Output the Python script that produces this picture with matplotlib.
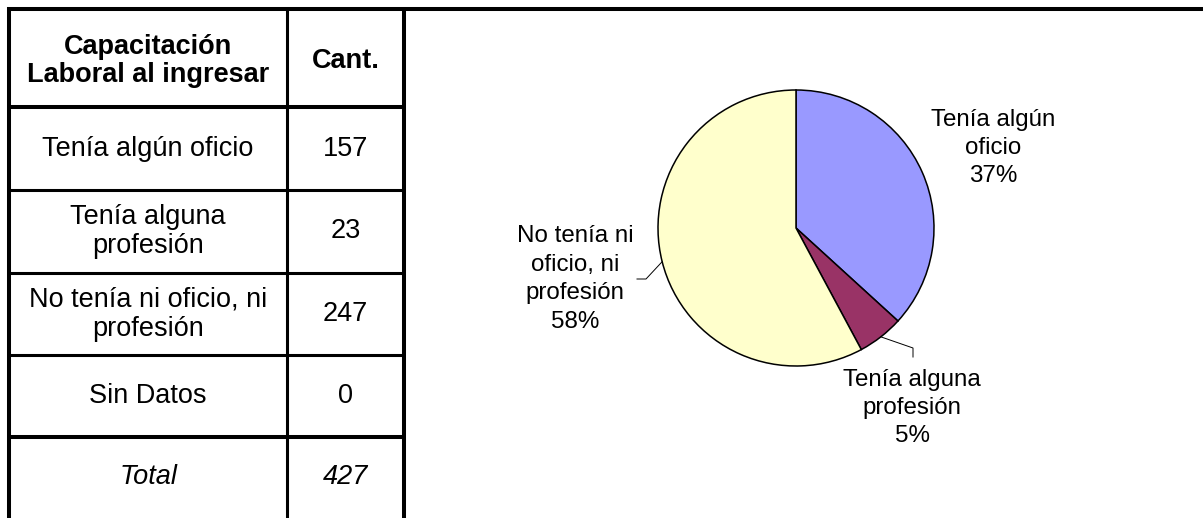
import numpy as np
import matplotlib
matplotlib.use("Agg")
from matplotlib import pyplot as plt

# datos
categorias = ['Tenía algún oficio', 'Tenía alguna\nprofesión',
              'No tenía ni oficio, ni\nprofesión', 'Sin Datos']
cantidades = [157, 23, 247, 0]
etiquetas_torta = ['Tenía algún\noficio', 'Tenía alguna\nprofesión',
                   'No tenía ni\noficio, ni\nprofesión', 'Sin Datos']
colores = ['#9999FF', '#993366', '#FFFFCC', '#CCFFFF']
total = sum(cantidades)

W, H = 1203, 518
plt.rcParams['font.family'] = ['Liberation Sans', 'DejaVu Sans']
fig = plt.figure(figsize=(W / 100, H / 100), dpi=100)
ax = fig.add_axes([0, 0, 1, 1])


def Y(y):
    return H - y


# --- tabla ---
x_izq, x_div, x_der = 9, 287, 404
filas = [9, 107, 190, 273, 355, 437, H]
c1 = (x_izq + x_div) / 2
c2 = (x_div + x_der) / 2

ax.plot([7, W], [Y(9), Y(9)], color='black', lw=2.9, solid_capstyle='butt')
ax.plot([x_izq, x_izq], [Y(7), 0], color='black', lw=2.9, solid_capstyle='butt')
ax.plot([x_der, x_der], [Y(7), 0], color='black', lw=2.9, solid_capstyle='butt')
ax.plot([x_div, x_div], [Y(9), 0], color='black', lw=2.2, solid_capstyle='butt')
for i, yy in enumerate(filas[1:-1]):
    grueso = i in (0, 4)
    ax.plot([x_izq, x_der], [Y(yy), Y(yy)], color='black',
            lw=2.9 if grueso else 2.2, solid_capstyle='butt')

fs_tabla = 19.5
ym = (filas[0] + filas[1]) / 2 + 3
ax.text(c1, Y(ym), 'Capacitación\nLaboral al ingresar', ha='center', va='center',
        fontsize=fs_tabla, fontweight='bold', linespacing=1.15)
ax.text(c2, Y(ym), 'Cant.', ha='center', va='center',
        fontsize=fs_tabla, fontweight='bold')
for i, (cat, n) in enumerate(zip(categorias, cantidades)):
    ym = (filas[i + 1] + filas[i + 2]) / 2
    ax.text(c1, Y(ym), cat, ha='center', va='center', fontsize=fs_tabla, linespacing=1.15)
    ax.text(c2, Y(ym), str(n), ha='center', va='center', fontsize=fs_tabla)
ym = (filas[5] + filas[6]) / 2
ax.text(c1, Y(ym), 'Total', ha='center', va='center', fontsize=fs_tabla, style='italic')
ax.text(c2, Y(ym), str(total), ha='center', va='center', fontsize=fs_tabla, style='italic')

# --- torta ---
vals = [v for v in cantidades if v > 0]
cols = [c for c, v in zip(colores, cantidades) if v > 0]
etqs = [e for e, v in zip(etiquetas_torta, cantidades) if v > 0]
cx, cy, r = 796, 228, 138
wedges, _ = ax.pie(vals, colors=cols, startangle=90, counterclock=False,
                   center=(cx, Y(cy)), radius=r, frame=True,
                   wedgeprops=dict(edgecolor='black', linewidth=1.1))

pos_etq = [(993, 148), (912, 408), (575, 279)]
guias = [None, [(913, 348), (913, 357)], [(646, 279), (637, 279)]]
for w, v, e, (lx, ly), g in zip(wedges, vals, etqs, pos_etq, guias):
    pct = round(v / total * 100)
    ax.text(lx, Y(ly), f'{e}\n{pct}%', ha='center', va='center',
            fontsize=17.4, linespacing=1.38)
    if g:
        th = np.deg2rad((w.theta1 + w.theta2) / 2)
        px = [cx + r * np.cos(th)] + [p[0] for p in g]
        py = [Y(cy) + r * np.sin(th)] + [Y(p[1]) for p in g]
        ax.plot(px, py, color='black', lw=0.7)

ax.set_xlim(0, W)
ax.set_ylim(0, H)
ax.axis('off')
fig.savefig('out.png', dpi=100, facecolor='white')
